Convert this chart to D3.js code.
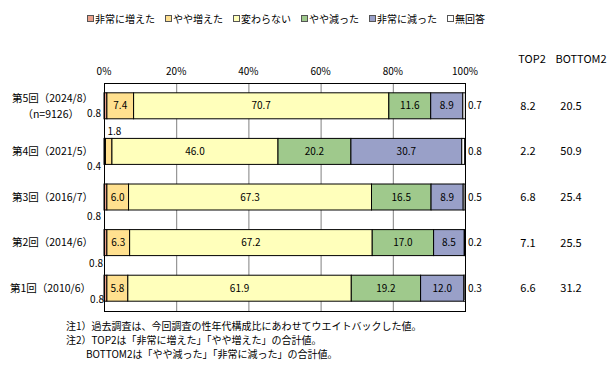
<!DOCTYPE html>
<html>
<head>
<meta charset="utf-8">
<script src="https://cdn.jsdelivr.net/npm/d3@7"></script>
<style>
  body { margin: 0; background: #fff; }
  svg text { font-family: "Noto Sans CJK JP", sans-serif; fill: #000; }
</style>
</head>
<body>
<svg id="chart" width="616" height="370"></svg>
<script>
const rounds = ["第5回（2024/8）", "第4回（2021/5）", "第3回（2016/7）", "第2回（2014/6）", "第1回（2010/6）"];
const keys = ["非常に増えた", "やや増えた", "変わらない", "やや減った", "非常に減った", "無回答"];
const veryUp = [0.8, 0.4, 0.8, 0.8, 0.8];
const littleUp = [7.4, 1.8, 6.0, 6.3, 5.8];
const same = [70.7, 46.0, 67.3, 67.2, 61.9];
const littleDown = [11.6, 20.2, 16.5, 17.0, 19.2];
const veryDown = [8.9, 30.7, 8.9, 8.5, 12.0];
const noAnswer = [0.7, 0.8, 0.5, 0.2, 0.3];
const top2 = [8.2, 2.2, 6.8, 7.1, 6.6];
const bottom2 = [20.5, 50.9, 25.4, 25.5, 31.2];
const ticks = [0, 20, 40, 60, 80, 100];
const notes = [
  "注1）過去調査は、今回調査の性年代構成比にあわせてウエイトバックした値。",
  "注2）TOP2は「非常に増えた」「やや増えた」の合計値。",
  "　　BOTTOM2は「やや減った」「非常に減った」の合計値。"
];

const colors = ["#eba08a", "#ffe08f", "#ffffbb", "#9fc98c", "#99a0c8", "#ffffff"];
// hand offsets for the thin 非常に増えた labels (they sit outside the bars)
const lowLabelDy = [-5, 2, 6, 8, -2];
const lowLabelX = [101, 101, 101, 103, 104];

const svg = d3.select("#chart");

const rows = rounds.map((r, i) => ({
  round: r,
  "非常に増えた": veryUp[i],
  "やや増えた": littleUp[i],
  "変わらない": same[i],
  "やや減った": littleDown[i],
  "非常に減った": veryDown[i],
  "無回答": noAnswer[i]
}));

const x = d3.scaleLinear().domain([0, 100]).range([104, 465]);
const y = d3.scaleBand().domain(rounds).range([83, 311])
  .paddingInner(0.43).paddingOuter(0.215);

const series = d3.stack().keys(keys)(rows);

// legend
let lx = 87;
const legend = svg.append("g");
keys.forEach((k, i) => {
  legend.append("rect")
    .attr("x", lx + 0.5).attr("y", 15.5)
    .attr("width", 6).attr("height", 6)
    .attr("fill", colors[i]).attr("stroke", "#555");
  const t = legend.append("text")
    .attr("x", lx + 8).attr("y", 19).attr("dy", "0.36em")
    .attr("font-size", 10).text(k);
  lx += 8 + t.node().getComputedTextLength() + 10;
});

// grid + frame
svg.append("g").selectAll("line")
  .data(ticks.slice(1, -1))
  .join("line")
  .attr("x1", d => x(d) + 0.5).attr("x2", d => x(d) + 0.5)
  .attr("y1", 83).attr("y2", 311)
  .attr("stroke", "#808080");

svg.append("g").selectAll("text")
  .data(ticks)
  .join("text")
  .attr("x", d => x(d)).attr("y", 71).attr("dy", "0.36em")
  .attr("text-anchor", "middle").attr("font-size", 10)
  .text(d => d + "%");

// bars
svg.append("g").selectAll("g")
  .data(series)
  .join("g")
  .attr("fill", (d, i) => colors[i])
  .selectAll("rect")
  .data(d => d)
  .join("rect")
  .attr("x", d => x(d[0]))
  .attr("y", d => y(d.data.round))
  .attr("width", d => x(d[1]) - x(d[0]))
  .attr("height", y.bandwidth())
  .attr("stroke", "#000").attr("stroke-width", 1);

svg.append("rect")
  .attr("x", 104.5).attr("y", 83.5)
  .attr("width", 361).attr("height", 228)
  .attr("fill", "none").attr("stroke", "#000");

// value labels
const labels = svg.append("g").attr("font-size", 10);
series.forEach((s, si) => {
  s.forEach((d, ri) => {
    const v = d[1] - d[0];
    const cy = y(d.data.round) + y.bandwidth() / 2;
    const w = x(d[1]) - x(d[0]);
    const t = labels.append("text").attr("dy", "0.36em").text(v.toFixed(1));
    if (si === 0) {
      t.attr("x", lowLabelX[ri]).attr("text-anchor", "end")
        .attr("y", y(d.data.round) + y.bandwidth() + lowLabelDy[ri]);
    } else if (si === keys.length - 1) {
      t.attr("x", x(100) + 3).attr("y", cy);
    } else if (w < 15) {
      t.attr("x", x(d[0]) + 2).attr("y", y(d.data.round) - 7);
    } else {
      t.attr("x", (x(d[0]) + x(d[1])) / 2).attr("y", cy).attr("text-anchor", "middle");
    }
  });
});

// category labels
const cat = svg.append("g").attr("font-size", 10.5).attr("text-anchor", "end");
rounds.forEach((r, i) => {
  const cy = y(r) + y.bandwidth() / 2;
  if (i === 0) {
    cat.append("text").attr("x", 93).attr("y", cy - 8).attr("dy", "0.36em").text(r);
    cat.append("text").attr("x", 79).attr("y", cy + 8).attr("dy", "0.36em").text("（n=9126）");
  } else {
    cat.append("text").attr("x", i === rounds.length - 1 ? 91 : 93)
      .attr("y", cy).attr("dy", "0.36em").text(r);
  }
});

// TOP2 / BOTTOM2 columns
const side = svg.append("g").attr("font-size", 11).attr("text-anchor", "middle");
side.append("text").attr("x", 532).attr("y", 59).attr("dy", "0.36em").text("TOP2");
side.append("text").attr("x", 581).attr("y", 59).attr("dy", "0.36em").text("BOTTOM2");
rounds.forEach((r, i) => {
  const cy = y(r) + y.bandwidth() / 2;
  side.append("text").attr("x", 528).attr("y", cy).attr("dy", "0.36em").text(top2[i].toFixed(1));
  side.append("text").attr("x", 571).attr("y", cy).attr("dy", "0.36em").text(bottom2[i].toFixed(1));
});

// notes
svg.append("g").attr("font-size", 10)
  .selectAll("text")
  .data(notes)
  .join("text")
  .attr("x", 66)
  .attr("y", (d, i) => 326 + i * 14)
  .attr("dy", "0.36em")
  .text(d => d);
</script>
</body>
</html>
